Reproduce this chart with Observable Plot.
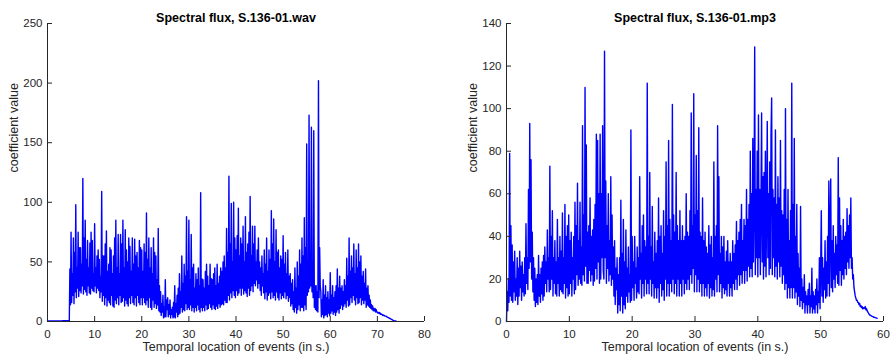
<!DOCTYPE html>
<html><head><meta charset="utf-8">
<script src="https://cdn.jsdelivr.net/npm/d3@7"></script>
<script src="https://cdn.jsdelivr.net/npm/@observablehq/plot@0.6"></script>
<style>
body{margin:0;background:#fff;}
#wrap{position:relative;width:893px;height:360px;overflow:hidden;background:#fff;}
.panel{position:absolute;top:0;}
</style></head><body>
<div id="wrap"><div class="panel" id="p1" style="left:0"></div><div class="panel" id="p2" style="left:446px"></div></div>
<script>
// ---- text ----
const wavTitle = "Spectral flux, S.136-01.wav";
const mp3Title = "Spectral flux, S.136-01.mp3";
const xLabel = "Temporal location of events (in s.)";
const yLabel = "coefficient value";

// ---- ticks ----
const wavXTicks = [0, 10, 20, 30, 40, 50, 60, 70, 80];
const wavYTicks = [0, 50, 100, 150, 200, 250];
const mp3XTicks = [0, 10, 20, 30, 40, 50, 60];
const mp3YTicks = [0, 20, 40, 60, 80, 100, 120, 140];

// ---- series: frame step (s) and coefficient values ----
const wavStep = 0.125; // 8 frames per second, from t = 0 (one line per second)
const wavFlux = [
  0.4,0.4,0.4,0.4,0.4,0.4,0.4,0.4,
  0.4,0.4,0.4,0.4,0.4,0.5,0.5,0.5,
  0.5,0.5,0.5,0.5,0.5,0.5,0.5,0.5,
  0.5,0.5,0.6,0.6,0.6,0.6,0.6,0.6,
  0.6,0.6,0.6,0.6,0.7,0.7,44,14,
  75,16,40,22,70,15,58,25,
  98,20,45,28,75,21,62,26,
  62,24,48,30,120,23,70,27,
  85,25,52,22,68,30,45,24,
  66,23,75,28,68,26,40,25,
  82,30,45,24,55,28,60,26,
  52,20,38,25,109,17,55,22,
  55,14,65,20,76,13,42,18,
  48,16,62,14,60,22,40,13,
  55,12,70,18,85,15,45,20,
  73,14,40,22,73,16,65,17,
  85,20,45,13,77,18,60,15,
  50,13,70,20,63,15,42,22,
  70,16,48,14,69,20,55,13,
  58,22,45,16,68,14,62,20,
  60,14,42,20,65,16,58,14,
  91,18,52,12,70,20,45,12,
  62,10,40,18,70,12,58,15,
  55,11,35,14,78,9,30,8,
  25,5,15,8,22,3,12,4,
  35,4,18,10,20,4,14,6,
  18,3,10,6,12,3,16,4,
  30,3,15,8,22,4,28,6,
  40,7,25,12,55,8,32,10,
  48,9,38,15,88,10,42,12,
  85,10,35,14,73,9,45,12,
  48,8,28,12,40,9,35,14,
  45,10,30,8,108,12,36,9,
  35,12,28,9,42,14,48,10,
  38,11,30,15,48,12,36,10,
  35,14,40,11,45,10,30,13,
  48,11,32,15,38,12,45,14,
  42,15,50,14,55,18,45,16,
  78,16,58,22,122,18,65,24,
  99,20,50,26,100,22,70,20,
  60,26,72,22,95,24,55,28,
  70,22,65,28,80,23,50,26,
  88,24,58,21,65,28,75,22,
  105,26,55,30,80,25,65,32,
  80,30,50,35,60,28,70,32,
  50,26,45,22,55,30,40,24,
  60,19,48,25,70,18,42,22,
  60,24,52,19,93,25,65,20,
  86,22,50,18,77,25,58,20,
  60,18,45,24,55,19,52,22,
  72,20,48,25,58,19,40,22,
  60,17,38,20,40,13,32,15,
  35,10,25,8,45,12,28,7,
  50,10,38,14,60,9,48,12,
  70,12,55,9,87,14,62,10,
  149,22,50,25,173,28,45,30,
  163,25,40,20,160,12,30,10,
  30,9,25,8,202,20,62,30,
  25,4,18,6,35,3,22,5,
  30,6,20,4,25,7,18,5,
  41,7,22,9,30,6,20,8,
  25,5,30,8,44,10,28,7,
  38,11,28,14,30,10,25,13,
  35,15,30,12,53,18,38,13,
  70,14,42,20,55,16,45,22,
  65,18,40,14,60,20,45,15,
  65,16,50,20,55,14,38,18,
  42,15,32,18,44,12,28,14,
  30,13,22,12,18,11,14,10,
  13,9,11,9,11,8,10,8,
  8,7,7.5,7,7.5,6,6.5,6,
  6,5,5.5,5,5,4.5,4.5,4.5,
  4,3.5,3.5,3,3,2.5,2.5,2,
  1.8,1.5,1.2,1,0.6,0.5,0.4,0.4,
  0.3
];

const mp3Step = 0.1; // 10 frames per second, from t = 0 (one line per second)
const mp3Flux = [
  0,14,5,20,9,79,12,45,10,36,
  9,28,14,33,10,20,12,30,8,25,
  12,33,16,26,10,28,14,22,12,30,
  13,46,18,30,15,62,25,93,28,76,
  20,42,14,30,10,25,7,20,9,22,
  8,31,12,22,9,25,13,28,10,31,
  12,35,18,28,14,43,20,30,14,73,
  15,40,20,52,12,30,18,38,13,28,
  12,48,18,30,12,40,15,33,14,51,
  13,30,18,55,11,40,16,45,12,50,
  13,38,18,42,12,30,20,40,13,56,
  15,45,22,65,17,38,20,56,18,35,
  17,92,22,50,19,110,26,83,18,42,
  18,45,24,58,19,40,22,43,17,48,
  19,55,25,88,20,85,28,60,18,88,
  20,60,30,92,24,20,127,30,66,18,
  45,25,60,19,38,22,68,17,50,20,
  35,12,38,8,25,15,30,4,22,8,
  30,5,57,12,32,4,48,8,28,6,
  43,12,25,9,35,14,22,9,90,10,
  40,16,28,10,40,18,25,11,35,14,
  30,13,68,20,32,11,45,18,50,12,
  38,20,35,13,112,18,40,13,70,20,
  35,12,54,18,28,11,42,16,32,11,
  38,16,58,9,40,18,45,12,32,15,
  52,10,40,20,75,12,45,18,85,12,
  48,18,38,14,102,20,50,13,42,18,
  70,12,45,20,38,12,52,18,38,12,
  45,20,38,13,40,18,60,15,42,20,
  40,15,52,22,98,18,45,25,107,14,
  50,22,78,14,52,20,91,14,42,18,
  40,12,58,18,38,12,42,16,35,12,
  32,18,45,11,36,16,40,12,30,15,
  75,12,40,20,45,14,92,22,68,14,
  32,18,40,11,35,16,40,13,28,15,
  33,12,38,18,28,12,32,16,28,12,
  38,18,32,15,36,20,47,15,38,22,
  42,17,48,22,55,18,38,24,48,18,
  45,24,62,19,48,26,55,21,80,25,
  60,21,86,28,55,129,22,62,30,80,
  21,97,30,62,22,55,98,28,68,20,
  70,26,80,21,52,94,30,60,22,75,
  25,88,105,22,62,30,58,21,90,26,
  55,20,68,28,58,21,85,26,52,18,
  50,22,62,15,100,18,48,11,62,16,
  38,11,52,16,112,11,55,16,86,11,
  40,14,55,8,32,12,25,7,54,10,
  20,6,16,9,22,4,14,8,12,4,
  15,8,18,4,12,7,25,4,14,6,
  12,4,15,8,20,4,14,9,30,6,
  25,52,12,30,9,25,15,38,11,28,
  12,40,18,66,12,42,67,16,38,14,
  45,20,32,16,40,22,36,18,77,17,
  58,24,45,17,38,22,48,20,40,25,
  42,22,53,28,45,25,50,30,58,25,
  30,20,22,16,14,12,11,10,10,9,
  9,8,8.5,7,7.5,6.5,7,6,6.5,6,
  6.5,7,5.5,6,5,4.5,4,3.5,3,3,
  2.8,2.5,2.4,2.3,2.1,2,1.9,1.8,1.7,1.6,
  1.5
];

const FONT = "'Liberation Sans', Arial, Helvetica, sans-serif";
const AXIS = "#262626";

function panel({values, step, xDomain, yDomain, xTicks, yTicks, title, width, marginLeft, marginRight}) {
  const data = values.map((v, i) => ({t: i * step, v}));
  const H = 360, mt = 23, mb = 39;
  const innerW = width - marginLeft - marginRight, innerH = H - mt - mb;
  return Plot.plot({
    width, height: H, marginLeft, marginRight, marginTop: mt, marginBottom: mb,
    style: {fontFamily: FONT, fontSize: "11.5px", color: AXIS, background: "white", overflow: "visible"},
    x: {domain: xDomain, label: null},
    y: {domain: yDomain, label: null},
    marks: [
      Plot.line(data, {x: "t", y: "v", stroke: "#0000ff", strokeWidth: 1.4}),
      Plot.ruleY([yDomain[0]], {stroke: AXIS}),
      Plot.ruleX([xDomain[0]], {stroke: AXIS}),
      Plot.tickX(xTicks, {x: d => d, insetTop: innerH - 5, stroke: AXIS}),
      Plot.tickY(yTicks, {y: d => d, insetRight: innerW - 5, stroke: AXIS}),
      Plot.axisX({ticks: xTicks, tickSize: 0, tickPadding: 8, label: null}),
      Plot.axisY({ticks: yTicks, tickSize: 0, tickPadding: 5, label: null}),
      Plot.text([title], {text: d => d, frameAnchor: "top", dy: -10, fontWeight: "bold", fontSize: 12.5, fill: "#000"}),
      Plot.text([xLabel], {text: d => d, frameAnchor: "bottom", dy: 29, fontSize: 12.5, fill: AXIS}),
      Plot.text([yLabel], {text: d => d, frameAnchor: "left", dx: -34, rotate: -90, fontSize: 12.5, fill: AXIS})
    ]
  });
}

document.getElementById("p1").append(panel({
  values: wavFlux, step: wavStep, xDomain: [0, 80], yDomain: [0, 250],
  xTicks: wavXTicks, yTicks: wavYTicks, title: wavTitle,
  width: 446, marginLeft: 47, marginRight: 22
}));
document.getElementById("p2").append(panel({
  values: mp3Flux, step: mp3Step, xDomain: [0, 60], yDomain: [0, 140],
  xTicks: mp3XTicks, yTicks: mp3YTicks, title: mp3Title,
  width: 447, marginLeft: 60, marginRight: 10
}));
</script>
</body></html>
